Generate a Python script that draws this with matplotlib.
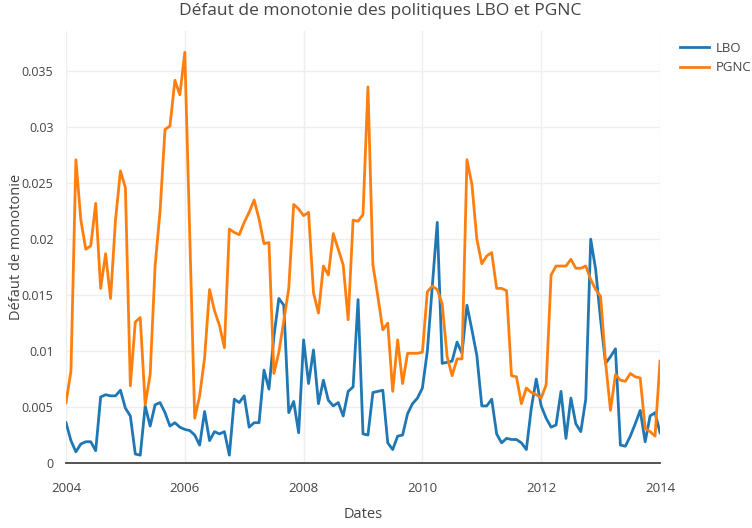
import numpy as np
import matplotlib
matplotlib.use("Agg")
import matplotlib.pyplot as plt

plt.rcParams['font.family'] = ['Open Sans', 'DejaVu Sans']

# monthly values, Jan 2004 .. Jan 2014
lbo = [0.0036, 0.0020, 0.0010, 0.0017, 0.0019, 0.0019, 0.0011, 0.0059, 0.0061, 0.0060,
       0.0060, 0.0065, 0.0049, 0.0042, 0.0008, 0.0007, 0.0051, 0.0033, 0.0052, 0.0054,
       0.0045, 0.0033, 0.0036, 0.0032, 0.0030, 0.0029, 0.0025, 0.0016, 0.0046, 0.0020,
       0.0028, 0.0026, 0.0028, 0.0007, 0.0057, 0.0054, 0.0060, 0.0032, 0.0036, 0.0036,
       0.0083, 0.0066, 0.0113, 0.0147, 0.0141, 0.0045, 0.0055, 0.0027, 0.0110, 0.0071,
       0.0101, 0.0053, 0.0074, 0.0056, 0.0051, 0.0054, 0.0042, 0.0064, 0.0068, 0.0146,
       0.0026, 0.0025, 0.0063, 0.0064, 0.0065, 0.0018, 0.0012, 0.0024, 0.0025, 0.0044,
       0.0053, 0.0058, 0.0067, 0.0100, 0.0158, 0.0215, 0.0089, 0.0090, 0.0091, 0.0108,
       0.0098, 0.0141, 0.0119, 0.0096, 0.0051, 0.0051, 0.0057, 0.0026, 0.0018, 0.0022,
       0.0021, 0.0021, 0.0018, 0.0012, 0.0049, 0.0075, 0.0051, 0.0040, 0.0032, 0.0034,
       0.0064, 0.0022, 0.0058, 0.0035, 0.0028, 0.0057, 0.0200, 0.0173, 0.0128, 0.0089,
       0.0095, 0.0102, 0.0016, 0.0015, 0.0024, 0.0035, 0.0047, 0.0019, 0.0042, 0.0045,
       0.0027]
pgnc = [0.0054, 0.0082, 0.0271, 0.0217, 0.0191, 0.0194, 0.0232, 0.0156, 0.0187, 0.0147,
        0.0217, 0.0261, 0.0246, 0.0069, 0.0126, 0.0130, 0.0052, 0.0079, 0.0176, 0.0225,
        0.0298, 0.0301, 0.0342, 0.0329, 0.0367, 0.0204, 0.0040, 0.0060, 0.0094, 0.0155,
        0.0136, 0.0123, 0.0103, 0.0209, 0.0206, 0.0204, 0.0215, 0.0224, 0.0235, 0.0218,
        0.0196, 0.0197, 0.0080, 0.0099, 0.0127, 0.0156, 0.0231, 0.0227, 0.0221, 0.0224,
        0.0152, 0.0134, 0.0176, 0.0168, 0.0205, 0.0191, 0.0177, 0.0128, 0.0217, 0.0216,
        0.0222, 0.0336, 0.0177, 0.0149, 0.0119, 0.0125, 0.0064, 0.0110, 0.0071, 0.0098,
        0.0098, 0.0098, 0.0099, 0.0153, 0.0158, 0.0155, 0.0142, 0.0095, 0.0078, 0.0093,
        0.0093, 0.0271, 0.0249, 0.0200, 0.0178, 0.0185, 0.0188, 0.0156, 0.0156, 0.0154,
        0.0078, 0.0077, 0.0053, 0.0067, 0.0063, 0.0061, 0.0058, 0.0070, 0.0168, 0.0176,
        0.0176, 0.0176, 0.0182, 0.0174, 0.0174, 0.0176, 0.0164, 0.0155, 0.0149, 0.0090,
        0.0047, 0.0079, 0.0074, 0.0073, 0.0080, 0.0077, 0.0076, 0.0031, 0.0028, 0.0024,
        0.0091]
dates = 2004 + np.arange(len(lbo)) / 12.0

x_ticks = [2004, 2006, 2008, 2010, 2012, 2014]
y_ticks = [0, 0.005, 0.01, 0.015, 0.02, 0.025, 0.03, 0.035]
y_labels = ["0", "0.005", "0.01", "0.015", "0.02", "0.025", "0.03", "0.035"]

fig = plt.figure(figsize=(7.52, 5.28), dpi=100)
ax = fig.add_axes([66/752, 65/528, 594/752, 432/528])

ax.plot(dates, lbo, color="#1f77b4", lw=2, label="LBO")
ax.plot(dates, pgnc, color="#ff7f0e", lw=2, label="PGNC")

ax.set_xlim(2004, 2014)
ax.set_ylim(0, 0.0386)
ax.set_xticks(x_ticks)
ax.set_xticklabels([str(t) for t in x_ticks])
ax.set_yticks(y_ticks)
ax.set_yticklabels(y_labels)
ax.grid(True, color="#eeeeee", lw=1)
ax.set_axisbelow(True)
for s in ["top", "right", "left"]:
    ax.spines[s].set_visible(False)
ax.spines["bottom"].set_color("#444444")
ax.spines["bottom"].set_linewidth(1.3)
ax.tick_params(length=0, labelsize=9.5, colors="#444444")
ax.tick_params(axis="y", labelsize=9, pad=9)
ax.tick_params(axis="x", pad=14)

ax.set_xlabel("Dates", fontsize=10.5, color="#444444", labelpad=8)
ax.set_ylabel("Défaut de monotonie", fontsize=10.5, color="#444444")
ax.yaxis.set_label_coords((24 - 66) / 594, 0.5)
fig.suptitle("Défaut de monotonie des politiques LBO et PGNC", fontsize=12.5,
             color="#444444", x=0.505, y=0.995)

fig.legend(loc="upper left", bbox_to_anchor=(668/752, 1 - 30/528), frameon=False,
           fontsize=9.5, handlelength=2.2, labelspacing=0.5, handletextpad=0.5,
           labelcolor="#444444")

fig.savefig("out.png", dpi=100)
